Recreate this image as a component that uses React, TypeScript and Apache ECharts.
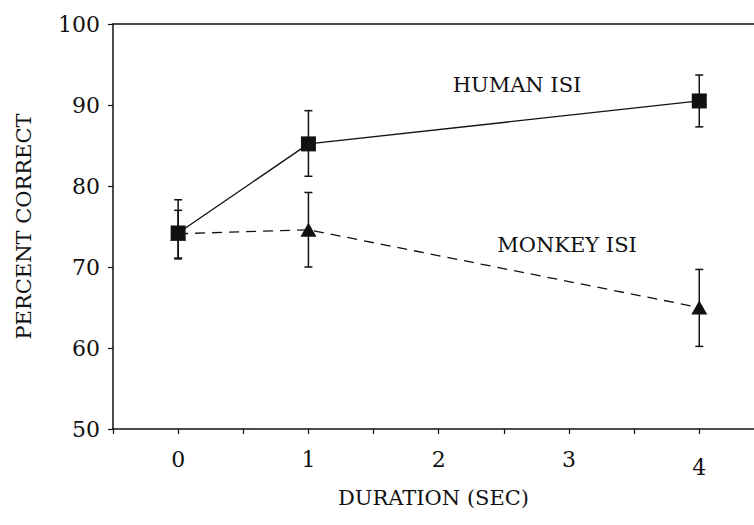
import React, { useEffect, useRef } from "react";
import * as echarts from "echarts";

const durations = [0, 1, 4];
const humanMean = [74.2, 85.2, 90.5];
const humanLow = [71.0, 81.2, 87.3];
const humanHigh = [78.3, 89.3, 93.7];
const monkeyMean = [74.1, 74.6, 65.0];
const monkeyLow = [71.1, 70.0, 60.2];
const monkeyHigh = [77.0, 79.2, 69.7];
const xTickValues = [-0.5, 0, 0.5, 1, 1.5, 2, 2.5, 3, 3.5, 4];
const xLabelValues = [0, 1, 2, 3, 4];
const seriesNames = ["HUMAN ISI", "MONKEY ISI"];

const FONT = "DejaVu Serif";
const INK = "#111";

export default function App() {
  const ref = useRef<HTMLDivElement>(null);
  useEffect(() => {
    document.body.style.margin = "0";
    const chart = echarts.init(ref.current!, null, { renderer: "svg" });
    const errData = (lo: number[], hi: number[]) =>
      durations.map((d, i) => [d, lo[i], hi[i]]);
    const errorRender = (params: any, api: any) => {
      const x = api.value(0);
      const lo = api.coord([x, api.value(1)]);
      const hi = api.coord([x, api.value(2)]);
      const w = 4;
      const style = { stroke: INK, lineWidth: 1.5 };
      return {
        type: "group",
        children: [
          { type: "line", shape: { x1: lo[0], y1: lo[1], x2: hi[0], y2: hi[1] }, style },
          { type: "line", shape: { x1: lo[0] - w, y1: lo[1], x2: lo[0] + w, y2: lo[1] }, style },
          { type: "line", shape: { x1: hi[0] - w, y1: hi[1], x2: hi[0] + w, y2: hi[1] }, style },
        ],
      };
    };
    chart.setOption({
      animation: false,
      backgroundColor: "#fff",
      grid: { left: 113, right: 0, top: 24, bottom: 96, containLabel: false },
      xAxis: [
        {
          type: "value",
          min: -0.5,
          max: 4.42,
          interval: 0.5,
          name: "DURATION (SEC)",
          nameLocation: "middle",
          nameGap: 58,
          nameTextStyle: { fontFamily: FONT, fontSize: 21, color: INK },
          splitLine: { show: false },
          axisLine: { show: true, onZero: false, lineStyle: { color: INK, width: 1.5 } },
          axisTick: { show: true, length: 5, customValues: xTickValues, lineStyle: { color: INK, width: 1.2 } },
          axisLabel: {
            customValues: xLabelValues,
            margin: 19,
            fontFamily: FONT,
            fontSize: 22,
            color: INK,
            formatter: (v: number) => (v === 4 ? "{low|4}" : String(v)),
            rich: { low: { fontFamily: FONT, fontSize: 22, color: INK, padding: [8, 0, 0, 0] } },
          },
        },
        {
          type: "value",
          position: "top",
          min: -0.5,
          max: 4.42,
          splitLine: { show: false },
          axisLine: { show: true, onZero: false, lineStyle: { color: INK, width: 1.5 } },
          axisTick: { show: false },
          axisLabel: { show: false },
        },
      ],
      yAxis: {
        type: "value",
        min: 50,
        max: 100,
        interval: 10,
        name: "PERCENT CORRECT",
        nameLocation: "middle",
        nameGap: 79,
        nameTextStyle: { fontFamily: FONT, fontSize: 21, color: INK },
        splitLine: { show: false },
        axisLine: { show: true, onZero: false, lineStyle: { color: INK, width: 1.5 } },
        axisTick: { show: true, length: 5, lineStyle: { color: INK, width: 1.2 } },
        axisLabel: { margin: 13, fontFamily: FONT, fontSize: 22, color: INK },
      },
      graphic: [
        {
          type: "text",
          x: 517,
          y: 85,
          style: { text: seriesNames[0], font: `21px "${FONT}"`, fill: INK, align: "center", verticalAlign: "middle" },
        },
        {
          type: "text",
          x: 567,
          y: 245,
          style: { text: seriesNames[1], font: `21px "${FONT}"`, fill: INK, align: "center", verticalAlign: "middle" },
        },
      ],
      series: [
        {
          type: "custom",
          name: "monkey err",
          renderItem: errorRender,
          data: errData(monkeyLow, monkeyHigh),
          z: 1,
        },
        {
          type: "custom",
          name: "human err",
          renderItem: errorRender,
          data: errData(humanLow, humanHigh),
          z: 1,
        },
        {
          type: "line",
          name: seriesNames[1],
          data: durations.map((d, i) => [d, monkeyMean[i]]),
          symbol: "triangle",
          symbolSize: [16, 14],
          itemStyle: { color: INK },
          lineStyle: { color: INK, width: 1.3, type: [10, 7] },
          z: 3,
        },
        {
          type: "line",
          name: seriesNames[0],
          data: durations.map((d, i) => [d, humanMean[i]]),
          symbol: "rect",
          symbolSize: 15,
          itemStyle: { color: INK },
          lineStyle: { color: INK, width: 1.3 },
          z: 4,
        },
      ],
    });
    return () => chart.dispose();
  }, []);
  return <div ref={ref} style={{ position: "fixed", left: 0, top: 0, width: 754, height: 525 }} />;
}
